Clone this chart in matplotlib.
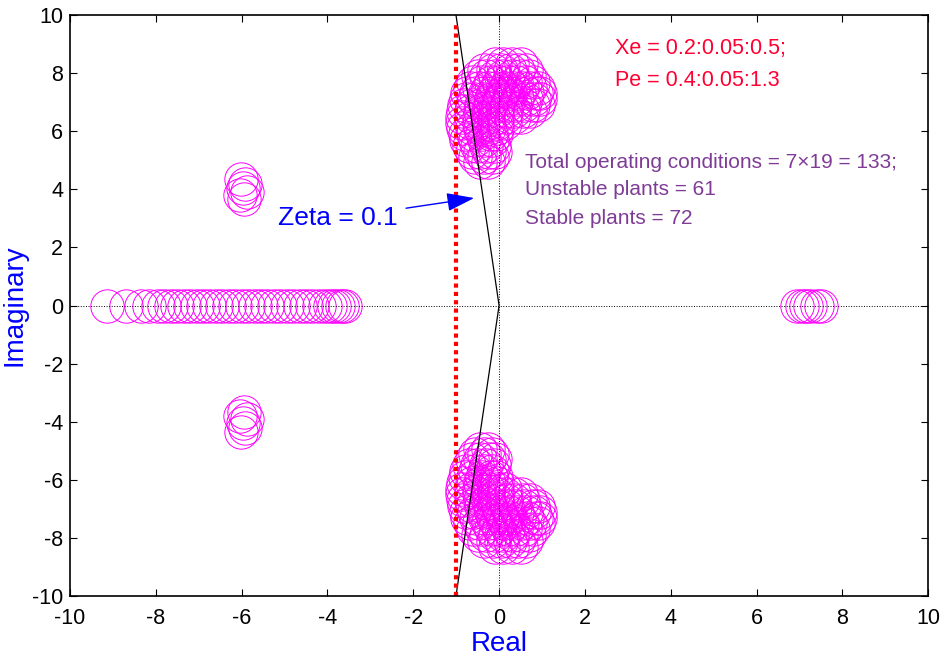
import numpy as np
import matplotlib
matplotlib.use("Agg")
import matplotlib.pyplot as plt

plt.rcParams["font.family"] = ["Liberation Sans", "DejaVu Sans"]
plt.rcParams["axes.unicode_minus"] = False

# -----------------------
# Pole locations
# -----------------------
# oscillatory mode cluster (upper half, lower half is the conjugate), one row per imag value
mode_rows_y = [8.3, 8.1, 7.9, 7.7, 7.5, 7.3, 7.1, 6.9, 6.7, 6.5, 6.3, 6.1,
               5.9, 5.7, 5.5, 5.3, 5.1, 4.95]
mode_rows_x = [
    [-0.1, 0.1, 0.3, 0.5],
    [-0.35, -0.15, 0.05, 0.25, 0.45, 0.62],
    [-0.5, -0.3, -0.1, 0.1, 0.3, 0.5, 0.7],
    [-0.6, -0.4, -0.2, 0.0, 0.2, 0.4, 0.6, 0.8],
    [-0.67, -0.47, -0.27, -0.07, 0.13, 0.33, 0.53, 0.73, 0.9],
    [-0.74, -0.54, -0.34, -0.14, 0.06, 0.26, 0.46, 0.66, 0.86, 0.96],
    [-0.78, -0.58, -0.38, -0.18, 0.02, 0.22, 0.42, 0.62, 0.82, 0.96],
    [-0.82, -0.62, -0.42, -0.22, -0.02, 0.18, 0.38, 0.58, 0.78, 0.9],
    [-0.85, -0.65, -0.45, -0.25, -0.05, 0.15, 0.35, 0.55, 0.72],
    [-0.86, -0.66, -0.46, -0.26, -0.06, 0.14, 0.34, 0.5],
    [-0.86, -0.66, -0.46, -0.26, -0.06, 0.14],
    [-0.84, -0.64, -0.44, -0.24, -0.06],
    [-0.8, -0.6, -0.4, -0.2, -0.07],
    [-0.76, -0.56, -0.36, -0.16],
    [-0.71, -0.51, -0.31, -0.11],
    [-0.64, -0.44, -0.24, -0.1],
    [-0.56, -0.36, -0.16],
    [-0.45, -0.25],
]

# complex pair near -6 (upper half)
pair_x = [-6.02, -5.92, -5.98, -5.88, -6.05, -5.95]
pair_y = [4.35, 4.2, 4.05, 3.9, 3.8, 3.65]

# real poles
real_left = [-9.15, -8.7, -8.35, -8.15, -7.95, -7.8, -7.65, -7.5, -7.35, -7.2,
             -7.05, -6.9, -6.75, -6.6, -6.45, -6.3, -6.15, -6.0, -5.85, -5.7,
             -5.55, -5.4, -5.25, -5.1, -4.95, -4.8, -4.65, -4.5, -4.35, -4.2,
             -4.05, -3.95, -3.85, -3.75, -3.65, -3.6]
real_right = [6.95, 7.05, 7.15, 7.25, 7.4, 7.5]

zeta = 0.1
ticks = [-10, -8, -6, -4, -2, 0, 2, 4, 6, 8, 10]

# -----------------------
# Plot
# -----------------------
fig = plt.figure(figsize=(9.44, 6.62), dpi=100)
ax = fig.add_axes([0.0742, 0.0997, 0.909, 0.8776])

circ = dict(marker="o", linestyle="none", markersize=24, markerfacecolor="none",
            markeredgecolor="#FF00FF", markeredgewidth=0.7)

mode_x, mode_y = [], []
for yv, xs in zip(mode_rows_y, mode_rows_x):
    mode_x += xs
    mode_y += [yv] * len(xs)

ax.plot(mode_x, mode_y, **circ)
ax.plot(mode_x, [-v for v in mode_y], **circ)
ax.plot(pair_x, pair_y, **circ)
ax.plot(pair_x, [-v for v in pair_y], **circ)
ax.plot(real_left, [0] * len(real_left), **circ)
ax.plot(real_right, [0] * len(real_right), **circ)

# axes through origin
ax.axhline(0, color="black", linestyle=":", linewidth=0.7)
ax.axvline(0, color="black", linestyle=":", linewidth=0.7)

# constant damping line
xz = -10 * zeta / np.sqrt(1 - zeta ** 2)
ax.plot([xz, 0, xz], [10, 0, -10], color="black", linewidth=0.9)

# sigma = -1 line
ax.plot([-1, -1], [-10, 9.8], color="red", linestyle=(0, (1, 1)), linewidth=3)

# annotations
ax.text(2.7, 8.86, "Xe = 0.2:0.05:0.5;", color="#FF0033", fontsize=15.5, va="center")
ax.text(2.7, 7.76, "Pe = 0.4:0.05:1.3", color="#FF0033", fontsize=15.5, va="center")
purple = "#7F3C96"
ax.text(0.61, 4.94, "Total operating conditions = 7\u00d719 = 133;", color=purple,
        fontsize=15, va="center")
ax.text(0.61, 3.98, "Unstable plants = 61", color=purple, fontsize=15, va="center")
ax.text(0.61, 3.01, "Stable plants = 72", color=purple, fontsize=15, va="center")

ax.annotate("Zeta = 0.1", xy=(-0.58, 3.7), xytext=(-5.15, 3.0),
            color="blue", fontsize=19, va="center",
            arrowprops=dict(arrowstyle="-|>,head_length=0.9,head_width=0.3",
                            color="blue", lw=1.0, shrinkA=4, shrinkB=0))

ax.set_xlim(-10, 10)
ax.set_ylim(-10, 10)
ax.set_xticks(ticks)
ax.set_yticks(ticks)
ax.tick_params(direction="in", top=True, right=True, length=5, labelsize=15.5)
ax.tick_params(axis="x", pad=9)
ax.tick_params(axis="y", pad=5)
for s in ax.spines.values():
    s.set_linewidth(1.2)

ax.set_xlabel("Real", color="blue", fontsize=20, labelpad=1)
ax.set_ylabel("Imaginary", color="blue", fontsize=20, labelpad=3)

fig.savefig("out.png", dpi=100)
